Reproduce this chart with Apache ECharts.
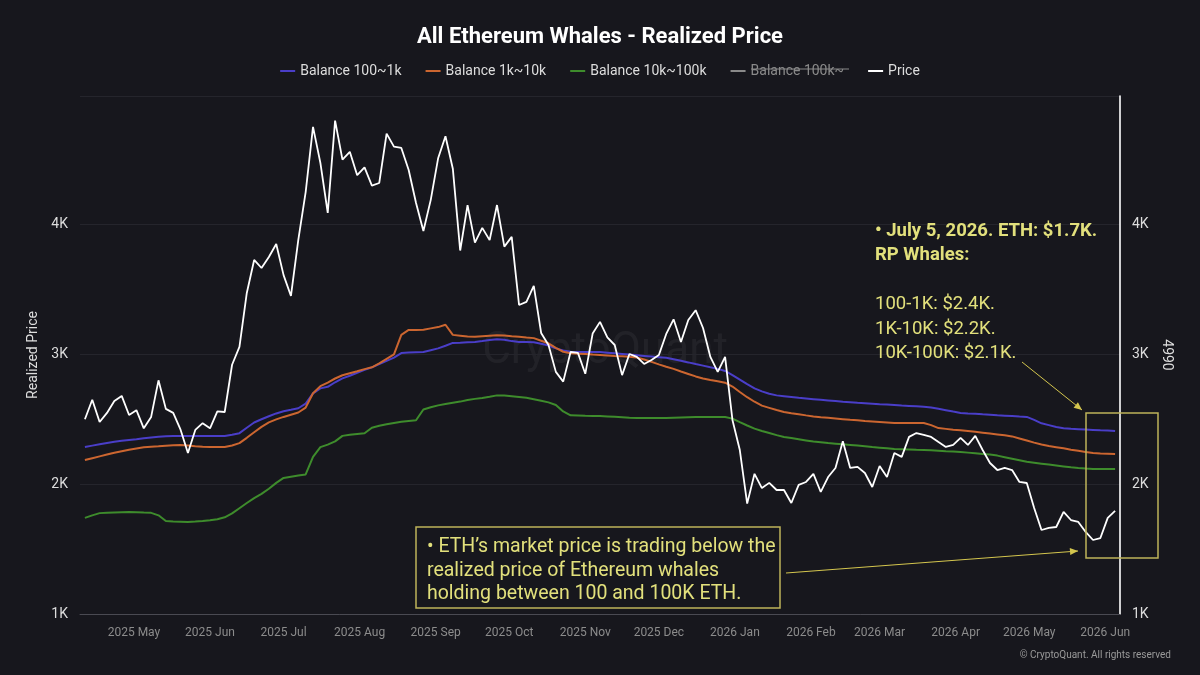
<html>
<head>
<meta charset="utf-8">
<script src="https://cdn.jsdelivr.net/npm/echarts@6.0.0/dist/echarts.min.js"></script>
<style>
  html, body, #main { width: 100%; height: 100%; margin: 0; background: #17171d; }
</style>
</head>
<body>
<div id="main"></div>
<script>
// one sample every 3 days, starting 2025-04-11
var START = [2025, 3, 11];
var STEP_DAYS = 3;
var MONTHS = ['Jan', 'Feb', 'Mar', 'Apr', 'May', 'Jun', 'Jul', 'Aug', 'Sep', 'Oct', 'Nov', 'Dec'];
var SERIES_NAMES = ['Balance 100~1k', 'Balance 1k~10k', 'Balance 10k~100k', 'Balance 100k~', 'Price'];

var price = [
  2500, 2650, 2479, 2549, 2640, 2680, 2533, 2570, 2430, 2518,
  2800, 2580, 2549, 2420, 2240, 2418, 2470, 2430, 2560, 2556,
  2920, 3057, 3473, 3727, 3665, 3750, 3850, 3610, 3450, 3881,
  4250, 4752, 4475, 4090, 4800, 4500, 4560, 4380, 4440, 4300,
  4320, 4700, 4600, 4590, 4420, 4166, 3950, 4190, 4510, 4680,
  4430, 3800, 4150, 3860, 3974, 3880, 4150, 3830, 3905, 3380,
  3404, 3527, 3165, 3072, 2865, 2790, 3018, 3011, 2850, 3160,
  3250, 3130, 3072, 2840, 3003, 2980, 2926, 2957, 2995, 3157,
  3270, 3095, 3265, 3340, 3203, 2980, 2865, 2980, 2495, 2263,
  1850, 2080, 1970, 2010, 1955, 1955, 1855, 1995, 2017, 2080,
  1940, 2055, 2125, 2330, 2125, 2133, 2086, 1978, 2140, 2055,
  2240, 2210, 2364, 2394, 2380, 2364, 2325, 2287, 2302, 2356,
  2302, 2372, 2263, 2163, 2109, 2125, 2109, 2017, 2009, 1817,
  1647, 1663, 1670, 1786, 1724, 1709, 1632, 1570, 1585, 1740,
  1794
];

var bal100to1k = [
  2287, 2297, 2307, 2317, 2326, 2334, 2340, 2346, 2353, 2359,
  2365, 2370, 2371, 2371, 2371, 2371, 2371, 2371, 2371, 2371,
  2380, 2393, 2435, 2475, 2500, 2523, 2545, 2562, 2573, 2585,
  2620, 2700, 2738, 2750, 2785, 2815, 2835, 2858, 2880, 2900,
  2925, 2950, 2975, 3010, 3014, 3016, 3018, 3032, 3046, 3066,
  3088, 3090, 3093, 3096, 3102, 3110, 3117, 3113, 3102, 3095,
  3095, 3094, 3082, 3068, 3046, 3030, 3021, 3018, 3018, 3018,
  3018, 3013, 3008, 3003, 2998, 2993, 2988, 2983, 2978, 2973,
  2962, 2950, 2938, 2925, 2913, 2900, 2888, 2872, 2840, 2805,
  2770, 2738, 2715, 2697, 2684, 2678, 2672, 2665, 2660, 2655,
  2650, 2645, 2640, 2635, 2631, 2627, 2624, 2620, 2616, 2613,
  2610, 2606, 2603, 2600, 2597, 2591, 2581, 2570, 2559, 2549,
  2545, 2542, 2538, 2535, 2531, 2528, 2525, 2521, 2518, 2495,
  2469, 2455, 2440, 2431, 2427, 2424, 2421, 2418, 2415, 2413,
  2410
];

var bal1kto10k = [
  2186, 2200, 2214, 2228, 2242, 2254, 2265, 2275, 2284, 2289,
  2292, 2296, 2299, 2302, 2298, 2293, 2289, 2287, 2287, 2287,
  2298, 2316, 2357, 2400, 2441, 2476, 2499, 2518, 2535, 2552,
  2590, 2700, 2755, 2783, 2814, 2839, 2855, 2870, 2886, 2900,
  2930, 2965, 3000, 3150, 3188, 3188, 3190, 3200, 3210, 3228,
  3150, 3144, 3138, 3135, 3140, 3144, 3148, 3145, 3140, 3136,
  3130, 3125, 3105, 3085, 3050, 3020, 3008, 3005, 3002, 2998,
  2995, 2992, 2988, 2985, 2982, 2976, 2960, 2942, 2923, 2905,
  2888, 2868, 2849, 2830, 2814, 2803, 2793, 2782, 2752, 2710,
  2670, 2635, 2605, 2588, 2571, 2556, 2547, 2539, 2530, 2522,
  2516, 2511, 2506, 2501, 2496, 2492, 2487, 2483, 2479, 2475,
  2471, 2471, 2471, 2471, 2471, 2455, 2432, 2426, 2420, 2415,
  2409, 2403, 2397, 2390, 2383, 2376, 2368, 2352, 2336, 2320,
  2305, 2294, 2285, 2276, 2266, 2257, 2248, 2240, 2237, 2235,
  2233
];

var bal10kto100k = [
  1740, 1760, 1777, 1780, 1782, 1784, 1786, 1784, 1781, 1779,
  1760, 1716, 1713, 1711, 1709, 1712, 1716, 1722, 1730, 1745,
  1775, 1815, 1855, 1893, 1925, 1965, 2010, 2048, 2057, 2066,
  2075, 2210, 2285, 2305, 2330, 2372, 2380, 2386, 2392, 2435,
  2450, 2462, 2472, 2480, 2486, 2492, 2575, 2592, 2607, 2617,
  2627, 2636, 2649, 2657, 2664, 2673, 2684, 2683, 2677, 2671,
  2665, 2654, 2642, 2630, 2610, 2560, 2530, 2529, 2527, 2526,
  2525, 2522, 2519, 2516, 2512, 2510, 2510, 2510, 2510, 2510,
  2512, 2514, 2516, 2518, 2518, 2518, 2518, 2518, 2505, 2478,
  2452, 2428, 2410, 2394, 2378, 2364, 2355, 2346, 2337, 2328,
  2323, 2317, 2312, 2307, 2302, 2297, 2292, 2286, 2281, 2276,
  2271, 2269, 2267, 2265, 2264, 2262, 2258, 2254, 2251, 2248,
  2243, 2238, 2233, 2228, 2220, 2208, 2196, 2184, 2172, 2165,
  2158, 2151, 2144, 2137, 2130, 2124, 2120, 2117, 2117, 2117,
  2117
];

var dates = price.map(function (_, i) {
  return new Date(START[0], START[1], START[2] + i * STEP_DAYS).getTime();
});

function pairs(values) {
  return values.map(function (v, i) { return [dates[i], v]; });
}

var DAY = 86400000;
var yellow = '#e2e07c';
var boxYellow = '#bfb45a';
var font = 'Roboto';

var chart = echarts.init(document.getElementById('main'));

function arrowHead(x0, y0, x1, y1) {
  var dx = x1 - x0, dy = y1 - y0;
  var len = Math.sqrt(dx * dx + dy * dy);
  var ux = dx / len, uy = dy / len;
  var bx = x1 - ux * 8, by = y1 - uy * 8;
  return [[x1, y1], [bx - uy * 3.5, by + ux * 3.5], [bx + uy * 3.5, by - ux * 3.5]];
}

function annoText(x, y, text, bold, size) {
  return {
    type: 'text', x: x, y: y, z: 100,
    style: {
      text: text, fill: yellow,
      font: (bold ? 'bold ' : '') + size + 'px ' + font,
      textVerticalAlign: 'middle'
    }
  };
}

var option = {
  backgroundColor: '#17171d',
  animation: false,
  title: {
    text: 'All Ethereum Whales - Realized Price',
    left: 'center',
    top: 21,
    textStyle: { color: '#ffffff', fontSize: 22, fontWeight: 'bold', fontFamily: font }
  },
  legend: {
    data: SERIES_NAMES,
    top: 59,
    left: 'center',
    icon: 'rect',
    itemWidth: 15,
    itemHeight: 2,
    itemGap: 24,
    inactiveColor: '#8a8a8a',
    selected: { 'Balance 100k~': false },
    textStyle: { color: '#dddddd', fontSize: 14, fontFamily: font }
  },
  grid: { left: 80, right: 80, top: 96, bottom: 61 },
  xAxis: {
    type: 'time',
    min: new Date(2025, 3, 9).getTime(),
    max: new Date(2026, 5, 7).getTime(),
    splitNumber: 14,
    minInterval: 28 * DAY,
    maxInterval: 31 * DAY,
    axisLine: { lineStyle: { color: '#4a4a52', width: 1 } },
    axisTick: { show: false },
    splitLine: { show: false },
    axisLabel: {
      color: '#8c8c8c', fontSize: 12, fontFamily: font, margin: 13,
      showMinLabel: false, showMaxLabel: false,
      formatter: function (v) {
        var d = new Date(v);
        return d.getFullYear() + ' ' + MONTHS[d.getMonth()];
      }
    }
  },
  yAxis: [{
    type: 'value',
    min: 1000, max: 4990, interval: 1000,
    name: 'Realized Price',
    nameLocation: 'middle',
    nameGap: 38,
    nameTextStyle: { color: '#dddddd', fontSize: 14, fontFamily: font },
    axisLine: { show: false },
    axisTick: { show: false },
    splitLine: { lineStyle: { color: '#25252c', width: 1 } },
    axisLabel: {
      color: '#dddddd', fontSize: 14, fontFamily: font, margin: 12, showMaxLabel: false,
      formatter: function (v) { return (v / 1000) + 'K'; }
    }
  }, {
    type: 'value',
    position: 'right',
    min: 1000, max: 4990, interval: 1000,
    name: '4990',
    nameLocation: 'middle',
    nameRotate: -90,
    nameGap: 38,
    nameTextStyle: { color: '#dddddd', fontSize: 14, fontFamily: font },
    axisLine: { show: true, lineStyle: { color: '#ffffff', width: 1.6 } },
    axisTick: { show: false },
    splitLine: { show: false },
    axisLabel: {
      color: '#dddddd', fontSize: 14, fontFamily: font, margin: 12, showMaxLabel: false,
      formatter: function (v) { return (v / 1000) + 'K'; }
    }
  }],
  series: [
    { name: SERIES_NAMES[0], type: 'line', data: pairs(bal100to1k), showSymbol: false, color: '#4a3ec8', lineStyle: { width: 2 } },
    { name: SERIES_NAMES[1], type: 'line', data: pairs(bal1kto10k), showSymbol: false, color: '#cc6630', lineStyle: { width: 2 } },
    { name: SERIES_NAMES[2], type: 'line', data: pairs(bal10kto100k), showSymbol: false, color: '#3e8c2c', lineStyle: { width: 2 } },
    { name: SERIES_NAMES[3], type: 'line', data: [], showSymbol: false, color: '#aaaaaa' },
    { name: SERIES_NAMES[4], type: 'line', yAxisIndex: 1, data: pairs(price), showSymbol: false, color: '#ffffff', lineStyle: { width: 1.8 } }
  ],
  graphic: [
    {
      type: 'text', x: 605, y: 352, z: 0, silent: true,
      style: { text: 'CryptoQuant', fill: 'rgba(255,255,255,0.05)', font: '44px ' + font, textAlign: 'center', textVerticalAlign: 'middle' }
    },
    // strike through the hidden legend item
    { type: 'line', z: 100, shape: { x1: 751, y1: 69, x2: 849, y2: 69 }, style: { stroke: '#8a8a8a', lineWidth: 1 } },
    annoText(875, 231, '• July 5, 2026. ETH: $1.7K.', true, 18.5),
    annoText(875, 255.5, 'RP Whales:', true, 18.5),
    annoText(875, 304.5, '100-1K: $2.4K.', false, 18.5),
    annoText(875, 329, '1K-10K: $2.2K.', false, 18.5),
    annoText(875, 353.5, '10K-100K: $2.1K.', false, 18.5),
    { type: 'line', z: 100, shape: { x1: 1022, y1: 362, x2: 1082, y2: 410 }, style: { stroke: '#d4c64e', lineWidth: 1 } },
    { type: 'polygon', z: 100, shape: { points: arrowHead(1022, 362, 1082, 410) }, style: { fill: '#d4c64e' } },
    { type: 'rect', z: 100, shape: { x: 1086, y: 413, width: 72, height: 145 }, style: { fill: 'none', stroke: boxYellow, lineWidth: 1.5 } },
    { type: 'rect', z: 100, shape: { x: 416, y: 527, width: 364, height: 81 }, style: { fill: '#17171d', stroke: boxYellow, lineWidth: 1.5 } },
    annoText(427, 547, '• ETH’s market price is trading below the', false, 19.5),
    annoText(427, 571, 'realized price of Ethereum whales', false, 19.5),
    annoText(427, 594, 'holding between 100 and 100K ETH.', false, 19.5),
    { type: 'line', z: 100, shape: { x1: 786, y1: 573, x2: 1078, y2: 551 }, style: { stroke: '#d4c64e', lineWidth: 1 } },
    { type: 'polygon', z: 100, shape: { points: arrowHead(786, 573, 1078, 551) }, style: { fill: '#d4c64e' } },
    {
      type: 'text', x: 1171, y: 655, z: 100,
      style: { text: '© CryptoQuant. All rights reserved', fill: '#9a9a9a', font: '10px ' + font, textAlign: 'right', textVerticalAlign: 'middle' }
    }
  ]
};

chart.setOption(option);
</script>
</body>
</html>
